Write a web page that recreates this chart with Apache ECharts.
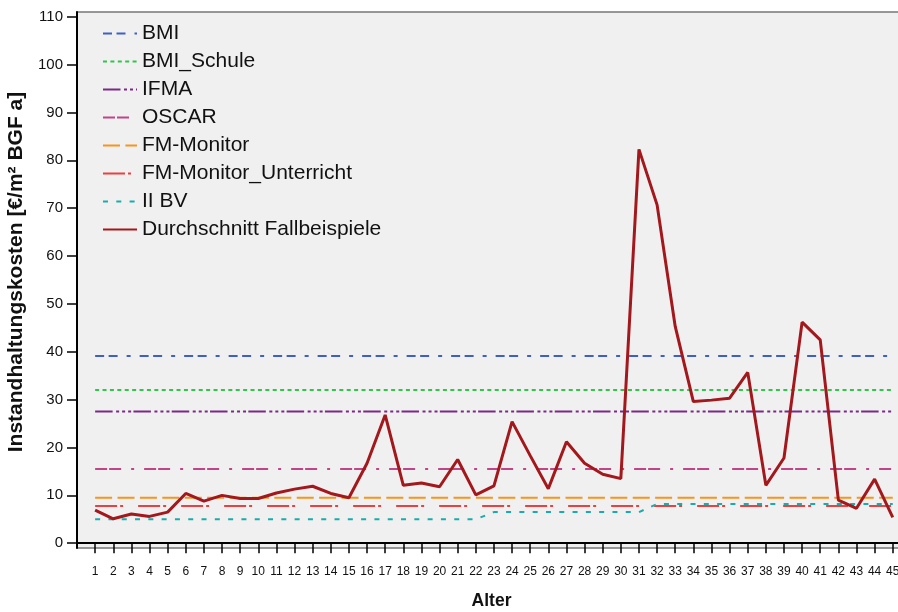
<!DOCTYPE html>
<html>
<head>
<meta charset="utf-8">
<script src="https://cdn.jsdelivr.net/npm/echarts@6/dist/echarts.min.js"></script>
<style>
html,body{margin:0;padding:0;background:#fff;}
#c{width:898px;height:612px;}
</style>
</head>
<body>
<div id="c"></div>
<script>
const ages = [1,2,3,4,5,6,7,8,9,10,11,12,13,14,15,16,17,18,19,20,21,22,23,24,25,26,27,28,29,30,31,32,33,34,35,36,37,38,39,40,41,42,43,44,45];
const durchschnitt = [6.9,5.1,6.1,5.6,6.5,10.4,8.8,10.0,9.35,9.35,10.5,11.3,11.9,10.4,9.5,16.7,26.8,12.1,12.6,11.8,17.5,10.1,12.0,25.4,18.3,11.4,21.2,16.7,14.4,13.5,82.3,70.7,45.3,29.6,29.9,30.3,35.7,12.1,17.8,46.2,42.5,9.0,7.3,13.4,5.4];
const iibv = [5.0,5.0,5.0,5.0,5.0,5.0,5.0,5.0,5.0,5.0,5.0,5.0,5.0,5.0,5.0,5.0,5.0,5.0,5.0,5.0,5.0,5.0,6.5,6.5,6.5,6.5,6.5,6.5,6.5,6.5,6.5,8.2,8.2,8.2,8.2,8.2,8.2,8.2,8.2,8.2,8.2,8.2,8.2,8.2,8.2];
const bmi = 39.1;
const bmiSchule = 32.0;
const ifma = 27.5;
const oscar = 15.5;
const fmMonitor = 9.5;
const fmMonitorUnterricht = 7.8;
const yTicks = [0,10,20,30,40,50,60,70,80,90,100,110];

const seriesNames = ['BMI','BMI_Schule','IFMA','OSCAR','FM-Monitor','FM-Monitor_Unterricht','II BV','Durchschnitt Fallbeispiele'];

function constLine(v){ return [[ages[0], v],[ages[ages.length-1], v]]; }
function pairs(arr){ return ages.map((a,i)=>[a, arr[i]]); }

const font = 'Liberation Sans, Arial, sans-serif';

function ser(name, data, color, type, width){
  return {
    name: name, type: 'line', data: data, symbol: 'none', silent: true,
    lineStyle: {color: color, width: width, type: type, cap: 'butt'},
    itemStyle: {color: 'rgba(0,0,0,0)', opacity: 0},
    animation: false
  };
}

const chart = echarts.init(document.getElementById('c'), null, {renderer:'canvas'});
chart.setOption({
  backgroundColor: '#ffffff',
  animation: false,
  grid: {left: 77, right: -2, top: 12, bottom: 64, outerBoundsMode: 'none', containLabel: false,
         show: true, backgroundColor: '#f0f0f0', borderColor: '#777', borderWidth: 1.5},
  legend: {
    orient: 'vertical', left: 102, top: 23, padding: 0, itemWidth: 34, itemHeight: 14, itemGap: 7,
    selectedMode: false,
    itemStyle: {opacity: 0},
    textStyle: {fontFamily: font, fontSize: 21, color: '#111', lineHeight: 20},
    data: seriesNames
  },
  xAxis: {
    type: 'value', min: 0, max: 45.4,
    axisLine: {show: true, lineStyle: {color: '#000', width: 2}},
    axisTick: {show: true, length: 10, lineStyle: {color: '#000', width: 1.5}, customValues: ages},
    axisLabel: {fontFamily: font, fontSize: 12, color: '#111', margin: 18, customValues: ages},
    splitLine: {show: false},
    name: 'Alter', nameLocation: 'middle', nameGap: 44,
    nameTextStyle: {fontFamily: font, fontSize: 17.5, fontWeight: 'bold', color: '#111', padding: [0,0,0,6]}
  },
  yAxis: {
    type: 'value', min: -1, max: 111,
    axisLine: {show: true, lineStyle: {color: '#000', width: 2}},
    axisTick: {show: true, length: 10, lineStyle: {color: '#000', width: 1.5}, customValues: yTicks},
    axisLabel: {fontFamily: font, fontSize: 15, color: '#111', margin: 14, customValues: yTicks},
    splitLine: {show: false},
    name: 'Instandhaltungskosten [€/m² BGF a]', nameLocation: 'middle', nameGap: 50,
    nameTextStyle: {fontFamily: font, fontSize: 21, fontWeight: 'bold', color: '#111', padding: [0,0,0,16]}
  },
  series: [
    ser('BMI', constLine(bmi), '#3f5fc2', [9,4.5,9,9,4,9], 2),
    ser('BMI_Schule', constLine(bmiSchule), '#33c44a', [4,3.4], 2),
    ser('IFMA', constLine(ifma), '#7a2a86', [17.5,3.5,3,3,3,3,3,2.3], 2),
    ser('OSCAR', constLine(oscar), '#c04488', [12,2,12,10,3,10], 2),
    ser('FM-Monitor', constLine(fmMonitor), '#f7941d', [17,5.4], 2),
    ser('FM-Monitor_Unterricht', constLine(fmMonitorUnterricht), '#ea4040', [22,3,3,15], 2),
    ser('II BV', pairs(iibv), '#1aabab', [5,8.3], 2),
    ser('Durchschnitt Fallbeispiele', pairs(durchschnitt), '#a3181c', 'solid', 3)
  ]
});
</script>
</body>
</html>
